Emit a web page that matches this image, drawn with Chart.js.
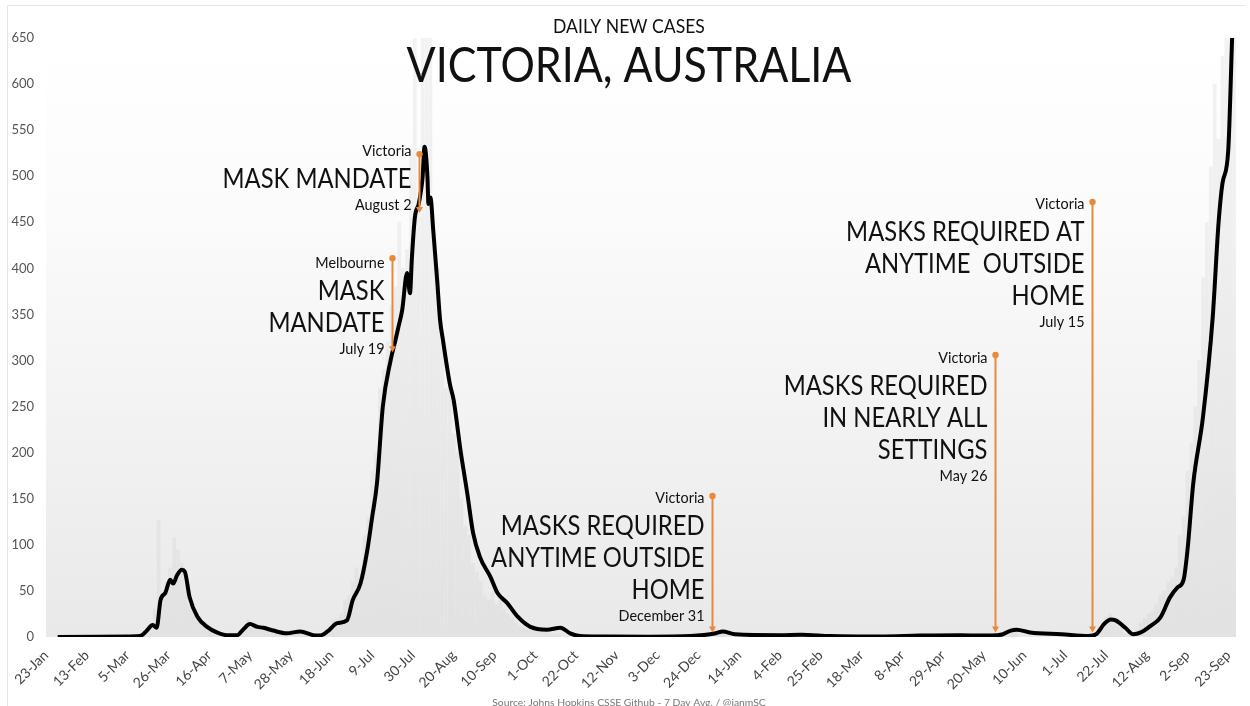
<!DOCTYPE html>
<html lang="en">
<head>
<meta charset="UTF-8">
<title>Daily new cases - Victoria, Australia</title>
<script src="https://cdn.jsdelivr.net/npm/chart.js"></script>
<style>
html,body{margin:0;padding:0;background:#fff;}
#wrap{width:1250px;height:706px;}
</style>
</head>
<body>
<div id="wrap"><canvas id="chart" width="1250" height="706"></canvas></div>
<script>
const FONT = 'Lato, "Noto Sans", sans-serif';
const ORANGE = '#e8893c';

// x axis = days since 23-Jan-2020
const tickDays = [0,21,42,63,84,105,126,147,168,189,210,231,252,273,294,315,336,357,378,399,420,441,462,483,504,525,546,567,588,609];
const tickLabels = ['23-Jan','13-Feb','5-Mar','26-Mar','16-Apr','7-May','28-May','18-Jun','9-Jul','30-Jul','20-Aug','10-Sep','1-Oct','22-Oct','12-Nov','3-Dec','24-Dec','14-Jan','4-Feb','25-Feb','18-Mar','8-Apr','29-Apr','20-May','10-Jun','1-Jul','22-Jul','12-Aug','2-Sep','23-Sep'];

// daily reported cases (light bars)
const caseDays = [48,50,52,54,56,58,60,62,64,66,68,70,72,74,76,78,80,82,84,86,88,90,92,94,96,98,100,102,104,106,108,110,112,114,116,118,120,122,124,126,128,130,132,134,136,138,140,142,144,146,148,
  150,152,154,156,158,160,162,164,166,168,170,172,174,176,178,180,182,184,186,188,190,192,194,196,198,200,202,204,206,208,210,212,214,216,218,220,222,224,226,228,230,232,234,236,238,240,242,244,246,248,250,252,254,256,258,260,262,264,
  345,347,349,496,498,500,
  544,546,548,550,552,554,556,558,560,562,564,566,568,570,572,574,576,578,580,582,584,586,588,590,592,594,596,598,600,602,604,606,608,610,612];
const dailyCases = [1,4,8,14,30,127,45,60,75,108,95,80,55,35,30,20,15,10,8,6,5,3,2,3,2,4,8,12,19,15,12,10,8,8,6,5,5,4,6,8,7,6,5,4,3,2,2,4,8,12,18,
  20,25,40,45,60,75,65,110,130,180,200,270,290,320,360,380,450,400,420,530,660,460,680,720,660,420,400,320,270,280,220,200,150,120,110,80,70,60,45,40,50,35,40,30,25,20,15,12,10,8,12,10,7,9,5,3,2,3,
  8,6,7,8,10,6,
  15,22,25,15,12,8,4,3,5,8,15,20,25,28,35,45,50,60,65,75,110,130,180,210,250,300,390,450,510,600,540,630,700,760,700];

// 7-day average (black line)
const avgDays = [6,43,48.5,51.5,55,57,59,61.5,64,65.5,67.5,70,71.5,74,78,83,88,93,98.5,101.5,105,109,112,117,124,131,137.5,141,145,150,155,158,162,165.5,168,170.5,173.5,177.5,180,181.5,183.5,186,187.5,188.5,190,192,193,194,195,196.5,197,198,199.5,201.5,203,204.5,208,210,213.5,217,220,223.5,229,232.5,237.5,243,249.5,258,265,270,275,286,311,332,345,348.5,355,378,389,404,430,450,471,487,493,497,500,507,523,537,541,545,548.5,551,556,560,564,569,574,579,583,586,588,591,596,601,604,606,609,611];
const avgCases = [0,0.5,1,6,13,10,40,48,62,58,67,73,71,43,22,11,5,2,2,8,14,11,10,7,4,6,2,1.5,6,15,18,40,58,94,130,167,250,300,322,336,355,395,373,412,455,470,482,499,532,499,470,477,441,387,344,322,275,257,203,156,113,87,65,48,37,22,11,8,10,4,1,0.5,0.3,1,4,6,3,2,2.5,1,0.5,1.5,2,1.5,3,7,8,5,3,1,3,14,19,18,10,3,5,12,21,43,54,62,94,167,239,347,449,492,528,650];

// mask mandate notes
const noteDays = [178,192,343,489,539];
const noteTops = [411,524,153,306,472];
const noteBottoms = [309,460,5,5,5];
const noteShift = [5,-3,2,3,2];
const noteTexts = [
  ['Melbourne',['MASK','MANDATE'],'July 19'],
  ['Victoria',['MASK MANDATE'],'August 2'],
  ['Victoria',['MASKS REQUIRED','ANYTIME OUTSIDE','HOME'],'December 31'],
  ['Victoria',['MASKS REQUIRED','IN NEARLY ALL','SETTINGS'],'May 26'],
  ['Victoria',['MASKS REQUIRED AT','ANYTIME  OUTSIDE','HOME'],'July 15']
];
const sourceText = 'Source: Johns Hopkins CSSE Github - 7 Day Avg. / @ianmSC';

function fitSize(ctx, text, target){
  ctx.font = '100px ' + FONT;
  return 100 * target / ctx.measureText(text).width;
}

// text a bit taller than the font gives, like the original lettering
function tallText(ctx, text, x, y, stretch){
  ctx.save();
  ctx.translate(x, y);
  ctx.scale(1, stretch);
  ctx.fillText(text, 0, 0);
  ctx.restore();
}

const backdrop = {
  id: 'backdrop',
  beforeDraw(chart){
    const {ctx, chartArea: a} = chart;
    ctx.save();
    ctx.fillStyle = '#fff';
    ctx.fillRect(0, 0, chart.width, chart.height);
    const g = ctx.createLinearGradient(0, a.top, 0, a.bottom);
    g.addColorStop(0, '#ffffff');
    g.addColorStop(0.3, '#fbfbfb');
    g.addColorStop(1, '#e9e9e9');
    ctx.fillStyle = g;
    ctx.fillRect(a.left, a.top, a.right - a.left, a.bottom - a.top);
    ctx.strokeStyle = '#e6e6e6';
    ctx.lineWidth = 1;
    ctx.beginPath();
    ctx.moveTo(7.5, 706); ctx.lineTo(7.5, 5.5); ctx.lineTo(1245, 5.5);
    ctx.stroke();
    ctx.restore();
  }
};

const notes = {
  id: 'notes',
  afterDatasetsDraw(chart){
    const {ctx} = chart;
    const xs = chart.scales.x, ys = chart.scales.y;
    const cx = chart.width / 2 + 4;
    ctx.save();
    ctx.fillStyle = '#111';
    ctx.textBaseline = 'middle';
    ctx.textAlign = 'center';
    ctx.font = fitSize(ctx, 'DAILY NEW CASES', 152) + 'px ' + FONT;
    tallText(ctx, 'DAILY NEW CASES', cx, 27, 1.1);
    ctx.font = fitSize(ctx, 'VICTORIA, AUSTRALIA', 445) + 'px ' + FONT;
    tallText(ctx, 'VICTORIA, AUSTRALIA', cx, 66, 1.12);
    ctx.fillStyle = '#777';
    ctx.font = fitSize(ctx, sourceText, 274) + 'px ' + FONT;
    ctx.fillText(sourceText, cx, 703);

    const big = fitSize(ctx, 'MASKS REQUIRED', 204);
    const small = fitSize(ctx, 'December 31', 86);
    noteDays.forEach((d, i) => {
      const x = Math.round(xs.getPixelForValue(d)) + 0.5;
      const yT = ys.getPixelForValue(noteTops[i]);
      const yB = ys.getPixelForValue(noteBottoms[i]);
      ctx.strokeStyle = ORANGE;
      ctx.fillStyle = ORANGE;
      ctx.lineWidth = 2;
      ctx.beginPath(); ctx.moveTo(x, yT); ctx.lineTo(x, yB - 4); ctx.stroke();
      ctx.beginPath(); ctx.arc(x, yT, 3.2, 0, Math.PI * 2); ctx.fill();
      ctx.beginPath(); ctx.moveTo(x - 3.5, yB - 6); ctx.lineTo(x + 3.5, yB - 6); ctx.lineTo(x, yB); ctx.closePath(); ctx.fill();

      const [head, body, tail] = noteTexts[i];
      const tx = x - 8;
      let y = yT + noteShift[i];
      ctx.fillStyle = '#111';
      ctx.textAlign = 'right';
      ctx.font = small + 'px ' + FONT;
      tallText(ctx, head, tx, y, 1.08);
      y += 28;
      ctx.font = big + 'px ' + FONT;
      body.forEach((t, k) => { tallText(ctx, t, tx, y, 1.15); if (k < body.length - 1) y += 32; });
      y += 26;
      ctx.font = small + 'px ' + FONT;
      tallText(ctx, tail, tx, y, 1.08);
    });
    ctx.restore();
  }
};

new Chart(document.getElementById('chart'), {
  type: 'bar',
  data: {
    datasets: [
      {
        type: 'line',
        label: '7 day avg',
        data: avgDays.map((d, i) => ({x: d, y: avgCases[i]})),
        borderColor: '#000',
        borderWidth: 4,
        pointRadius: 0,
        cubicInterpolationMode: 'monotone',
        borderJoinStyle: 'round',
        order: 0
      },
      {
        type: 'bar',
        label: 'Daily cases',
        data: caseDays.map((d, i) => ({x: d, y: dailyCases[i]})),
        backgroundColor: 'rgba(200,200,200,0.22)',
        barThickness: 3,
        order: 1
      }
    ]
  },
  options: {
    responsive: false,
    animation: false,
    layout: {padding: {left: 0, right: 14, top: 38, bottom: 0}},
    plugins: {legend: {display: false}, tooltip: {enabled: false}},
    scales: {
      x: {
        type: 'linear',
        min: 0,
        max: 613,
        offset: false,
        grid: {display: false},
        border: {display: false},
        afterBuildTicks: s => { s.ticks = tickDays.map(v => ({value: v})); },
        afterFit: s => { s.height = 69; },
        ticks: {
          autoSkip: false,
          minRotation: 45,
          maxRotation: 45,
          padding: 2,
          color: '#444',
          font: {family: FONT, size: 14},
          callback: (v, i) => tickLabels[i]
        }
      },
      y: {
        min: 0,
        max: 650,
        grid: {display: false},
        border: {display: false},
        afterFit: s => { s.width = 46; },
        ticks: {
          stepSize: 50,
          padding: 4,
          color: '#555',
          font: {family: FONT, size: 13}
        }
      }
    }
  },
  plugins: [backdrop, notes]
});
</script>
</body>
</html>
